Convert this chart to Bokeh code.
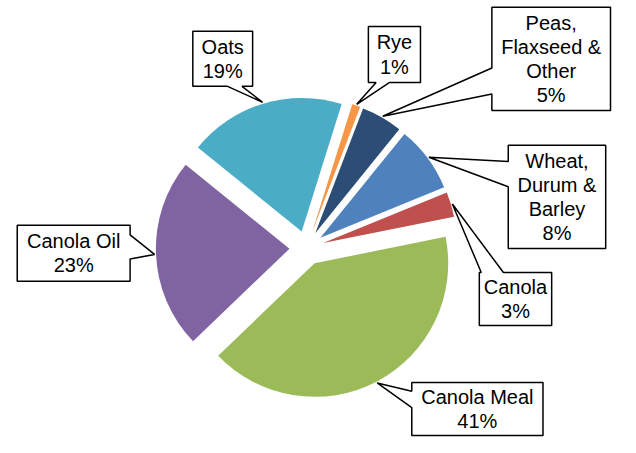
import math
from bokeh.plotting import figure
from bokeh.models import Range1d, ColumnDataSource
from bokeh.core.properties import value
from bokeh.embed import file_html
from bokeh.resources import INLINE

# ---- data ----
categories = ["Wheat, Durum & Barley", "Canola", "Canola Meal", "Canola Oil",
              "Oats", "Rye", "Peas, Flaxseed & Other"]
label_lines = [["Wheat,", "Durum &", "Barley"], ["Canola"], ["Canola Meal"],
               ["Canola Oil"], ["Oats"], ["Rye"], ["Peas,", "Flaxseed &", "Other"]]
shares = [8, 3, 41, 23, 19, 1, 5]
colors = ["#4F81BD", "#C0504D", "#9BBB59", "#8064A2", "#4BACC6", "#F79646", "#2C4D75"]

# ---- layout (reference pixel coordinates, y downward) ----
W, H = 636, 453
CX, CY = 314.0, 256.6
R = 138.5
EXPLODE = 17.8
FIRST_ANGLE = 39.0
# box: left, top, right, bottom, pointer side, base1, base2
boxes = [
    (523, 150, 624, 257, "left", 167, 193),
    (493, 282, 568, 337, "top", 495, 518),
    (423, 396, 559, 451, "left", 405, 422),
    (14, 233, 131, 291, "right", 243, 268),
    (196, 32, 258, 89, "bottom", 232, 247),
    (378, 27, 432, 85, "bottom", 386, 400),
    (506, 7, 629, 114, "left", 70, 97),
]
LINE_H = 25

PW, PH = 620, 437
scale = min(PW / W, PH / H)
half_x = PW / scale / 2.0
half_y = PH / scale / 2.0

p = figure(width=PW, height=PH, output_backend="svg", toolbar_location=None,
           x_range=Range1d(W / 2 - half_x, W / 2 + half_x),
           y_range=Range1d(H / 2 - half_y, H / 2 + half_y),
           x_axis_location=None, y_axis_location=None,
           min_border=0, min_border_left=0, min_border_right=0,
           min_border_top=0, min_border_bottom=0)
p.grid.visible = False
p.outline_line_color = None
p.background_fill_color = "white"

total = float(sum(shares))
wx, wy, sa, ea, tips = [], [], [], [], []
cum = 0.0
for v in shares:
    t1 = FIRST_ANGLE + 360.0 * cum / total
    t2 = t1 + 360.0 * v / total
    cum += v
    bis = math.radians((t1 + t2) / 2.0)
    ex = CX + EXPLODE * math.sin(bis)
    ey = (H - CY) + EXPLODE * math.cos(bis)
    wx.append(ex)
    wy.append(ey)
    sa.append(math.radians(90 - t2))
    ea.append(math.radians(90 - t1))
    tips.append((ex + (R + 1.5) * math.sin(bis), ey + (R + 1.5) * math.cos(bis)))

src = ColumnDataSource(dict(x=wx, y=wy, start=sa, end=ea, color=colors, cat=categories))
p.wedge(x="x", y="y", radius=R, start_angle="start", end_angle="end",
        direction="anticlock", fill_color="color", line_color=None, source=src)

xs, ys = [], []
tx, ty, tt = [], [], []
for (l, t, r, b, side, b1, b2), tip, lines, v in zip(boxes, tips, label_lines, shares):
    tipx, tipy = tip
    tipy_ref = H - tipy
    if side == "left":
        pts = [(l, t), (r, t), (r, b), (l, b), (l, b2), (tipx, tipy_ref), (l, b1)]
    elif side == "right":
        pts = [(l, t), (r, t), (r, b1), (tipx, tipy_ref), (r, b2), (r, b), (l, b)]
    elif side == "top":
        pts = [(l, t), (b1, t), (tipx, tipy_ref), (b2, t), (r, t), (r, b), (l, b)]
    else:
        pts = [(l, t), (r, t), (r, b), (b2, b), (tipx, tipy_ref), (b1, b), (l, b)]
    xs.append([q[0] for q in pts])
    ys.append([H - q[1] for q in pts])
    all_lines = lines + ["%d%%" % v]
    n = len(all_lines)
    cxb = (l + r) / 2.0
    cyb = (t + b) / 2.0
    for i, s in enumerate(all_lines):
        tx.append(cxb)
        ty.append(H - (cyb + (i - (n - 1) / 2.0) * LINE_H))
        tt.append(s)

p.patches(xs, ys, fill_color="white", line_color="black", line_width=1.5)
p.text(x=tx, y=ty, text=tt, text_align="center", text_baseline="middle",
       text_font=value("Liberation Sans"), text_font_size="20px", text_color="black")

open("out.html", "w").write(file_html(p, INLINE))
